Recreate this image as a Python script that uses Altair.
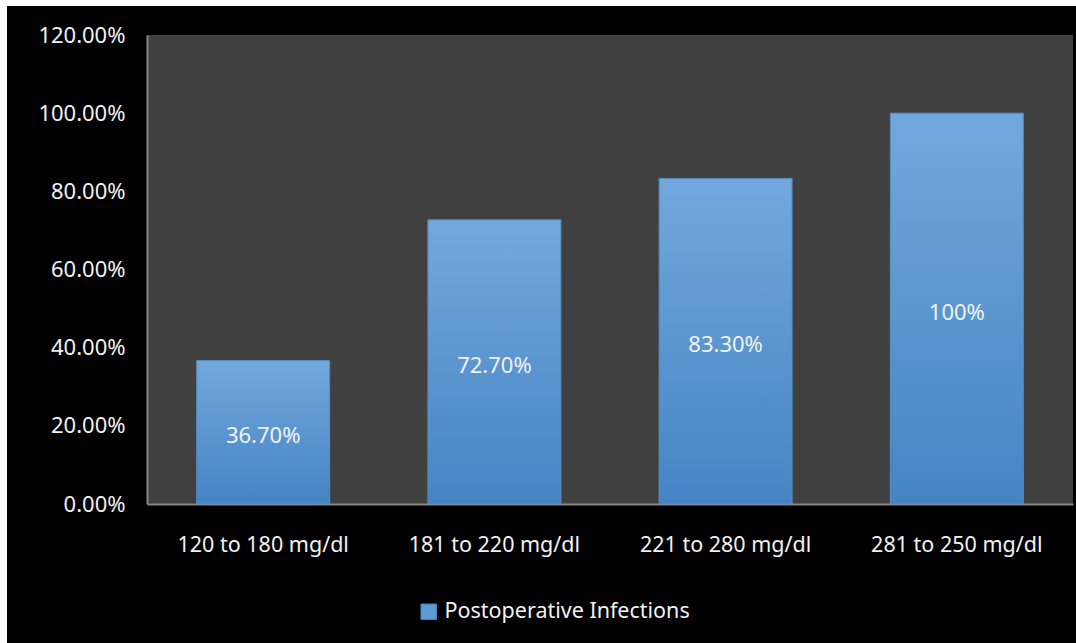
import altair as alt
import pandas as pd

categories = ["120 to 180 mg/dl", "181 to 220 mg/dl", "221 to 280 mg/dl", "281 to 250 mg/dl"]
values = [0.367, 0.727, 0.833, 1.00]
value_labels = ["36.70%", "72.70%", "83.30%", "100%"]
series_name = "Postoperative Infections"
y_ticks = [0, 0.2, 0.4, 0.6, 0.8, 1.0, 1.2]

df = pd.DataFrame({
    "cat": categories,
    "val": values,
    "half": [v / 2 for v in values],
    "lab": value_labels,
    "series": [series_name] * len(categories),
})

FONT = "Noto Sans"
TXT = "#f2f2f2"

x_enc = alt.X("cat:N", sort=categories, title=None,
              scale=alt.Scale(paddingInner=0.425, paddingOuter=0.215),
              axis=alt.Axis(labelAngle=0, labelFontSize=21.5, labelFont=FONT, labelColor=TXT,
                            ticks=False, labelPadding=30, domainColor="#868686", domainWidth=2))
y_scale = alt.Scale(domain=[0, 1.2], nice=False)

bars = alt.Chart(df).mark_bar(
    color=alt.Gradient(gradient="linear",
                       stops=[alt.GradientStop(color="#72a8de", offset=0),
                              alt.GradientStop(color="#4584c4", offset=1)],
                       x1=0, x2=0, y1=0, y2=1),
    stroke="#5a8cc2", strokeWidth=1,
).encode(
    x=x_enc,
    y=alt.Y("val:Q", title=None, scale=y_scale,
            axis=alt.Axis(values=y_ticks, format=".2%", grid=False, ticks=False,
                          labelFontSize=22, labelFont=FONT, labelColor=TXT, labelPadding=22,
                          domainColor="#868686", domainWidth=2)),
)

legend_layer = alt.Chart(df).mark_square(opacity=0, size=0).encode(
    x=alt.X("cat:N", sort=categories),
    y=alt.Y("half:Q", scale=y_scale),
    color=alt.Color("series:N", title=None,
                    scale=alt.Scale(range=["#5b9bd5"]),
                    legend=alt.Legend(orient="none", legendX=271, legendY=566,
                                      symbolType="square", symbolSize=240, symbolOpacity=1,
                                      symbolStrokeColor="#4a7fb8", symbolStrokeWidth=1,
                                      labelFontSize=21.5, labelFont=FONT, labelColor=TXT,
                                      labelOffset=5, labelLimit=500)),
)

labels = alt.Chart(df).mark_text(font=FONT, fontSize=22, color=TXT, baseline="middle", dy=4).encode(
    x=alt.X("cat:N", sort=categories),
    y=alt.Y("half:Q", scale=y_scale),
    text="lab:N",
)

frame_df = pd.DataFrame({"k": [0]})
left_strip = alt.Chart(frame_df).mark_rect(color="white").encode(
    x=alt.value(-147), x2=alt.value(-140), y=alt.value(-35), y2=alt.value(608))
top_strip = alt.Chart(frame_df).mark_rect(color="white").encode(
    x=alt.value(-147), x2=alt.value(929), y=alt.value(-35), y2=alt.value(-29))

chart = alt.layer(bars, labels, legend_layer, left_strip, top_strip).properties(
    width=926, height=469,
    background="black",
    padding={"left": 147, "top": 35, "right": 3, "bottom": 139},
    autosize=alt.AutoSizeParams(type="none"),
).configure_view(fill="#404040", strokeWidth=0)

chart.save("out.html", embed_options={"renderer": "svg", "actions": False})
